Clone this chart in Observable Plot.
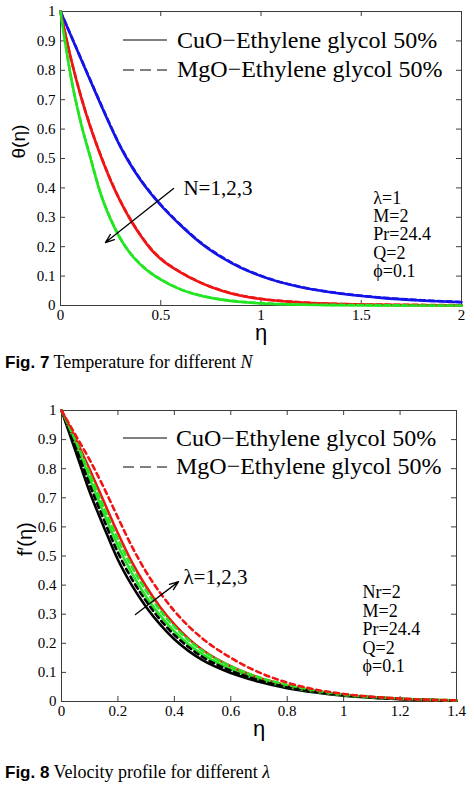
<!DOCTYPE html>
<html>
<head>
<meta charset="utf-8">
<script src="https://cdn.jsdelivr.net/npm/d3@7"></script>
<script src="https://cdn.jsdelivr.net/npm/@observablehq/plot@0.6"></script>
<style>
  body { margin: 0; background: #fff; }
  #page { position: relative; width: 474px; height: 786px; overflow: hidden; background: #fff; }
  .fig { position: absolute; left: 0; }
  .cap { position: absolute; left: 5px; font-family: "Liberation Serif", "Times New Roman", serif;
         font-size: 18px; line-height: 18px; white-space: nowrap; color: #000; }
  .cap b { font-family: "Liberation Sans", Arial, sans-serif; font-size: 17px; }
</style>
</head>
<body>
<div id="page">
  <div id="fig7" class="fig" style="top:0px"></div>
  <div class="cap" style="top:353px"><b>Fig. 7</b> Temperature for different <i>N</i></div>
  <div id="fig8" class="fig" style="top:395px"></div>
  <div class="cap" style="top:763px"><b>Fig. 8</b> Velocity profile for different <i>λ</i></div>
</div>
<script>
// ---- Fig. 7: temperature profiles θ(η) for N = 1, 2, 3 ----
const etaTemp = [0, 0.05, 0.1, 0.15, 0.2, 0.25, 0.3, 0.35, 0.4, 0.45, 0.5, 0.6, 0.7, 0.8, 0.9, 1.0, 1.2, 1.4, 1.6, 1.8, 2.0];
const thetaN1CuO = [1, 0.921, 0.842, 0.763, 0.685, 0.609, 0.538, 0.478, 0.426, 0.381, 0.341, 0.272, 0.212, 0.165, 0.128, 0.100, 0.062, 0.040, 0.026, 0.017, 0.011];
const thetaN1MgO = [1, 0.922, 0.843, 0.765, 0.687, 0.611, 0.540, 0.480, 0.428, 0.383, 0.343, 0.274, 0.214, 0.167, 0.130, 0.101, 0.063, 0.041, 0.027, 0.018, 0.012];
const thetaN2CuO = [1, 0.845, 0.715, 0.605, 0.510, 0.425, 0.352, 0.290, 0.237, 0.192, 0.158, 0.112, 0.077, 0.051, 0.033, 0.022, 0.010, 0.005, 0.002, 0.001, 0.000];
const thetaN2MgO = [1, 0.846, 0.717, 0.607, 0.512, 0.427, 0.354, 0.292, 0.239, 0.194, 0.160, 0.113, 0.078, 0.052, 0.034, 0.023, 0.011, 0.005, 0.003, 0.002, 0.001];
const thetaN3CuO = [1, 0.785, 0.625, 0.500, 0.380, 0.293, 0.225, 0.175, 0.138, 0.110, 0.088, 0.054, 0.033, 0.020, 0.012, 0.007, 0.003, 0.001, 0.000, 0.000, 0.000];
const thetaN3MgO = [1, 0.786, 0.627, 0.502, 0.382, 0.295, 0.227, 0.177, 0.140, 0.111, 0.089, 0.055, 0.034, 0.021, 0.013, 0.008, 0.003, 0.002, 0.001, 0.000, 0.000];
const tempTicksX = [0, 0.5, 1, 1.5, 2];
const tempParams = ["λ=1", "M=2", "Pr=24.4", "Q=2", "ϕ=0.1"];

// ---- Fig. 8: velocity profiles f′(η) for λ = 1, 2, 3 ----
const etaVel = [0, 0.05, 0.1, 0.15, 0.2, 0.25, 0.3, 0.35, 0.4, 0.45, 0.5, 0.6, 0.7, 0.8, 0.9, 1.0, 1.2, 1.4];
const fpL1CuO = [1, 0.860, 0.720, 0.600, 0.487, 0.398, 0.325, 0.264, 0.214, 0.174, 0.142, 0.098, 0.068, 0.046, 0.031, 0.020, 0.008, 0.003];
const fpL1MgO = [1, 0.875, 0.745, 0.625, 0.512, 0.420, 0.345, 0.281, 0.229, 0.187, 0.153, 0.106, 0.073, 0.050, 0.034, 0.022, 0.009, 0.003];
const fpL2CuO = [1, 0.885, 0.765, 0.647, 0.535, 0.440, 0.360, 0.295, 0.241, 0.197, 0.162, 0.111, 0.076, 0.051, 0.034, 0.022, 0.009, 0.003];
const fpL2MgO = [1, 0.895, 0.782, 0.667, 0.557, 0.462, 0.381, 0.313, 0.257, 0.211, 0.174, 0.121, 0.083, 0.057, 0.038, 0.024, 0.010, 0.004];
const fpL3CuO = [1, 0.902, 0.797, 0.687, 0.578, 0.478, 0.395, 0.324, 0.265, 0.216, 0.177, 0.121, 0.082, 0.055, 0.036, 0.023, 0.009, 0.003];
const fpL3MgO = [1, 0.915, 0.830, 0.735, 0.632, 0.532, 0.445, 0.373, 0.311, 0.259, 0.216, 0.150, 0.100, 0.065, 0.041, 0.026, 0.010, 0.004];
const velTicksX = [0, 0.2, 0.4, 0.6, 0.8, 1, 1.2, 1.4];
const velParams = ["Nr=2", "M=2", "Pr=24.4", "Q=2", "ϕ=0.1"];

const ticksY = [0, 0.1, 0.2, 0.3, 0.4, 0.5, 0.6, 0.7, 0.8, 0.9, 1];
const legendLabels = ["CuO−Ethylene glycol 50%", "MgO−Ethylene glycol 50%"];

const BLUE = "#1414e6", RED = "#f01414", GREEN = "#22e622", BLACK = "#000";
const AXIS = "#3c3c3c";
const SERIF = "Liberation Serif, Times New Roman, serif";
const SANS = "Liberation Sans, Arial, Helvetica, sans-serif";

const tempSeries = [
  {fluid: "CuO", color: BLUE,  values: thetaN1CuO},
  {fluid: "CuO", color: RED,   values: thetaN2CuO},
  {fluid: "CuO", color: GREEN, values: thetaN3CuO},
  {fluid: "MgO", color: BLUE,  values: thetaN1MgO},
  {fluid: "MgO", color: RED,   values: thetaN2MgO},
  {fluid: "MgO", color: GREEN, values: thetaN3MgO}
];
const velSeries = [
  {fluid: "CuO", color: BLACK, values: fpL1CuO},
  {fluid: "CuO", color: GREEN, values: fpL2CuO},
  {fluid: "CuO", color: RED,   values: fpL3CuO},
  {fluid: "MgO", color: BLACK, values: fpL1MgO},
  {fluid: "MgO", color: GREEN, values: fpL2MgO},
  {fluid: "MgO", color: RED,   values: fpL3MgO}
];

function toRows(eta, series) {
  return series.flatMap((s, k) => eta.map((e, i) => ({eta: e, value: s.values[i], id: k, fluid: s.fluid, color: s.color})));
}

// MATLAB-style boxed axes: frame, inward ticks on all four sides, plain tick labels
function boxAxes(xTicks, plotH, plotW) {
  return [
    Plot.frame({stroke: AXIS, strokeWidth: 1}),
    Plot.tickX(xTicks, {x: d => d, insetTop: plotH - 5, stroke: AXIS}),
    Plot.tickX(xTicks, {x: d => d, insetBottom: plotH - 5, stroke: AXIS}),
    Plot.tickY(ticksY, {y: d => d, insetRight: plotW - 5, stroke: AXIS}),
    Plot.tickY(ticksY, {y: d => d, insetLeft: plotW - 5, stroke: AXIS}),
    Plot.axisX(xTicks, {tickSize: 0, tickPadding: 4, tickFormat: d => String(d), label: null,
                        fontFamily: SERIF, fontSize: 15}),
    Plot.axisY(ticksY, {tickSize: 0, tickPadding: 5, tickFormat: d => String(d), label: null,
                        fontFamily: SERIF, fontSize: 15})
  ];
}

function curves(rows) {
  return [
    Plot.line(rows.filter(d => d.fluid === "CuO"), {x: "eta", y: "value", z: "id", stroke: "color",
      strokeWidth: 2.6, curve: "monotone-x"}),
    Plot.line(rows.filter(d => d.fluid === "MgO"), {x: "eta", y: "value", z: "id", stroke: "color",
      strokeWidth: 2.6, strokeDasharray: "5,4", curve: "monotone-x"})
  ];
}

function addLegend(svg, x0, x1, textX, rowsY) {
  const g = d3.select(svg).append("g").attr("text-anchor", "start");
  legendLabels.forEach((label, i) => {
    const r = rowsY[i];
    g.append("line").attr("x1", x0).attr("x2", x1).attr("y1", r.line).attr("y2", r.line)
      .attr("stroke", "#000").attr("stroke-width", 1)
      .attr("stroke-dasharray", i === 1 ? "11,6" : null);
    g.append("text").attr("x", textX).attr("y", r.base).text(label)
      .attr("text-anchor", "start")
      .attr("font-family", SERIF).attr("font-size", 24).attr("fill", "#000");
  });
}

// ---- Fig. 7 ----
{
  const H = 340, mT = 11, mB = 35, mL = 60, mR = 13;
  const plotH = H - mT - mB, plotW = 474 - mL - mR;
  const chart = Plot.plot({
    width: 474, height: H, marginTop: mT, marginBottom: mB, marginLeft: mL, marginRight: mR,
    x: {domain: [0, 2]},
    y: {domain: [0, 1]},
    color: {type: "identity"},
    style: {background: "#fff", color: "#000", fontFamily: SERIF, fontSize: "15px", overflow: "visible"},
    marks: [
      ...boxAxes(tempTicksX, plotH, plotW),
      ...curves(toRows(etaTemp, tempSeries)),
      Plot.arrow([{x1: 0.564, y1: 0.398, x2: 0.224, y2: 0.214}],
        {x1: "x1", y1: "y1", x2: "x2", y2: "y2", stroke: "#000", strokeWidth: 1.3, headLength: 11, headAngle: 40}),
      Plot.text(["N=1,2,3"], {x: 0.613, y: 0.398, text: d => d, textAnchor: "start", lineAnchor: "middle",
        fontFamily: SERIF, fontSize: 21, fill: "#000"}),
      Plot.text([tempParams.join("\n")], {x: 1.56, y: 0.391, text: d => d, textAnchor: "start", lineAnchor: "top",
        lineHeight: 1.02, fontFamily: SERIF, fontSize: 18, fill: "#000"}),
      Plot.text(["θ(η)"], {frameAnchor: "left", dx: -42, rotate: -90, text: d => d,
        fontFamily: SANS, fontSize: 19, fill: "#000"}),
      Plot.text(["η"], {frameAnchor: "bottom", dy: 34, lineAnchor: "bottom", text: d => d,
        fontFamily: SANS, fontSize: 22, fill: "#000"})
    ]
  });
  addLegend(chart, 123, 167, 177, [{line: 40, base: 48}, {line: 70, base: 77}]);
  document.getElementById("fig7").append(chart);
}

// ---- Fig. 8 ----
{
  const H = 345, mT = 15, mB = 39, mL = 61, mR = 18;
  const plotH = H - mT - mB, plotW = 474 - mL - mR;
  const chart = Plot.plot({
    width: 474, height: H, marginTop: mT, marginBottom: mB, marginLeft: mL, marginRight: mR,
    x: {domain: [0, 1.4]},
    y: {domain: [0, 1]},
    color: {type: "identity"},
    style: {background: "#fff", color: "#000", fontFamily: SERIF, fontSize: "15px", overflow: "visible"},
    marks: [
      ...boxAxes(velTicksX, plotH, plotW),
      ...curves(toRows(etaVel, velSeries)),
      Plot.arrow([{x1: 0.262, y1: 0.299, x2: 0.415, y2: 0.412}],
        {x1: "x1", y1: "y1", x2: "x2", y2: "y2", stroke: "#000", strokeWidth: 1.3, headLength: 11, headAngle: 40}),
      Plot.text(["λ=1,2,3"], {x: 0.432, y: 0.426, text: d => d, textAnchor: "start", lineAnchor: "middle",
        fontFamily: SERIF, fontSize: 21, fill: "#000"}),
      Plot.text([velParams.join("\n")], {x: 1.067, y: 0.399, text: d => d, textAnchor: "start", lineAnchor: "top",
        lineHeight: 1.02, fontFamily: SERIF, fontSize: 18, fill: "#000"}),
      Plot.text(["f′(η)"], {frameAnchor: "left", dx: -36, rotate: -90, text: d => d,
        fontFamily: SANS, fontSize: 20, fill: "#000"}),
      Plot.text(["η"], {frameAnchor: "bottom", dy: 34, lineAnchor: "bottom", text: d => d,
        fontFamily: SANS, fontSize: 22, fill: "#000"})
    ]
  });
  addLegend(chart, 123, 167, 176, [{line: 43, base: 51}, {line: 72, base: 79}]);
  document.getElementById("fig8").append(chart);
}
</script>
</body>
</html>
